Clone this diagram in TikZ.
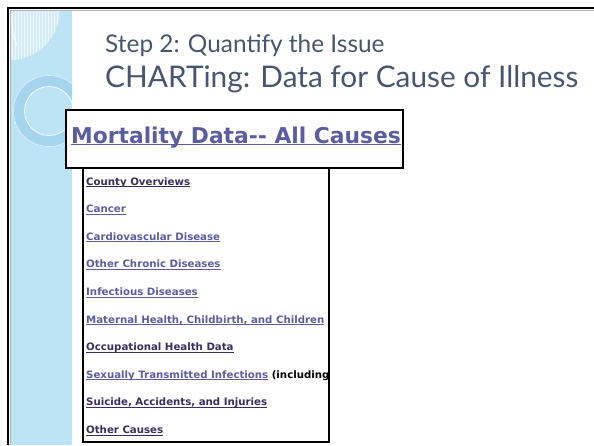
\documentclass[tikz,border=0pt]{standalone}
\usepackage{fontspec}
\usetikzlibrary{positioning}
\newfontfamily\titlefont{Lato}
\newfontfamily\webfont{DejaVu Sans}
\definecolor{titleblue}{RGB}{72,85,112}
\definecolor{bandblue}{RGB}{188,228,245}
\definecolor{ringblue}{RGB}{165,212,238}
\definecolor{linklight}{RGB}{92,92,160}
\definecolor{linkdark}{RGB}{58,46,94}
% link text with a flat underline
\newcommand\lnk[2]{\textcolor{#1}{\setbox0\hbox{#2}\rlap{\rule[-2pt]{\wd0}{0.9pt}}\box0}}

\begin{document}
\begin{tikzpicture}[x=1pt,y=-1pt]
\tikzstyle{title}=[inner sep=0,anchor=base west,text=titleblue,font=\titlefont]
\tikzstyle{panel}=[draw,line width=1.6pt,fill=white,inner sep=0,anchor=north west]
\tikzstyle{item}=[inner sep=0,text height=8pt,text depth=3pt,font=\webfont\bfseries\fontsize{10.2}{11}\selectfont]
\tikzstyle{next}=[below=16.2pt of #1.south west,anchor=north west]
\useasboundingbox (0,0) rectangle (594,445);
\fill[white] (0,0) rectangle (594,445);
% side band
\fill[bandblue] (10,10) rectangle (72,445);
\begin{scope}
\clip (10,10) rectangle (72,445);
\begin{scope}
\clip (10,10) circle (50);
\fill[white,opacity=0.35] (10,10) circle (50);
\draw[white,opacity=0.6,line width=0.4,step=3] (10,10) grid (62,62);
\end{scope}
\draw[white,line width=0.9,opacity=0.8] (17,45) arc[start angle=155,end angle=215,radius=58];
\draw[ringblue,line width=11] (49,111) circle (30);
\draw[white,line width=0.8,opacity=0.9] (49,111) circle (24.5);
\draw[white,line width=0.6,opacity=0.6] (49,111) circle (35.5);
\end{scope}
% slide frame
\draw[gray!60,line width=0.7] (10,445) -- (10,10) -- (594,10);
\draw[line width=2] (8,445) -- (8,8) -- (594,8);
% titles
\node[title,font=\titlefont\fontsize{24.4}{25}\selectfont] (step) at (105,52) {Step 2: Quantify the Issue};
\node[title,font=\titlefont\fontsize{29.8}{30}\selectfont] (charting) at (105,87) {CHARTing: Data for Cause of Illness};
% panels
\node[panel,minimum width=246pt,minimum height=274pt] (causes) at (82,167) {};
\node[panel,minimum width=337pt,minimum height=58pt] (mortality) at (65,109) {};
\node[inner sep=0,anchor=base west,font=\webfont\bfseries\fontsize{21.8}{22}\selectfont] (heading) at (71,143) {\lnk{linklight}{Mortality Data-- All Causes}};
% cause links
\begin{scope}
\clip (83,168) rectangle (327,440);
\node[item,anchor=base west] (county) at (86,185) {\lnk{linkdark}{County Overviews}};
\node[item,next=county] (cancer) {\lnk{linklight}{Cancer}};
\node[item,next=cancer] (cardio) {\lnk{linklight}{Cardiovascular Disease}};
\node[item,next=cardio] (chronic) {\lnk{linklight}{Other Chronic Diseases}};
\node[item,next=chronic] (infect) {\lnk{linklight}{Infectious Diseases}};
\node[item,next=infect] (maternal) {\lnk{linklight}{Maternal Health, Childbirth, and Children}};
\node[item,next=maternal] (occup) {\lnk{linkdark}{Occupational Health Data}};
\node[item,next=occup] (sexual) {\lnk{linklight}{Sexually Transmitted Infections} (including};
\node[item,next=sexual] (suicide) {\lnk{linkdark}{Suicide, Accidents, and Injuries}};
\node[item,next=suicide] (other) {\lnk{linkdark}{Other Causes}};
\end{scope}
\end{tikzpicture}
\end{document}
